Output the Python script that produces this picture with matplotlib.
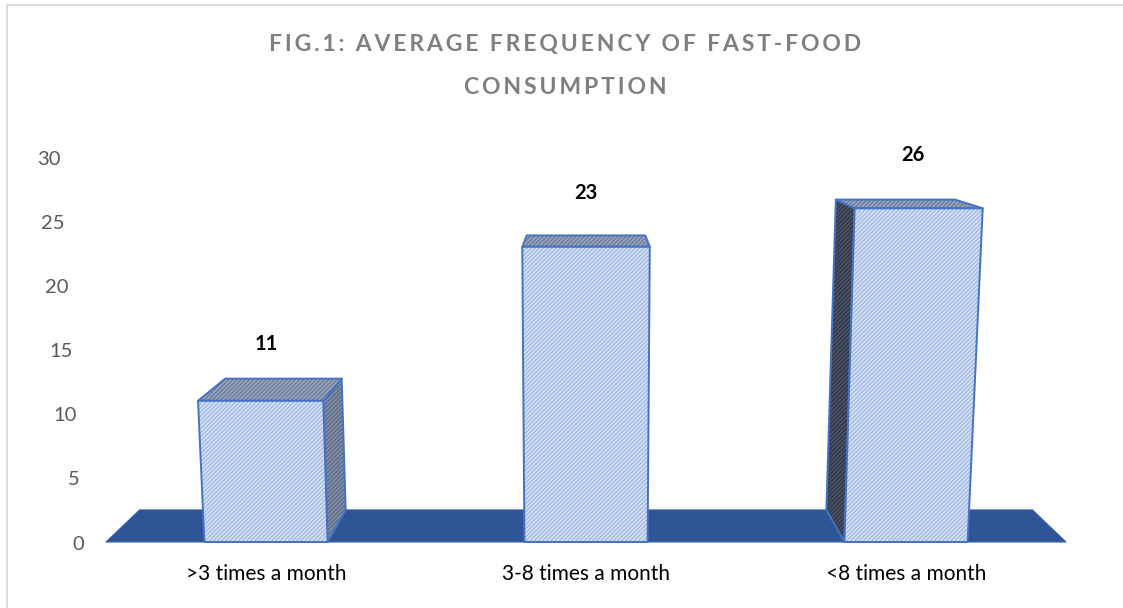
import numpy as np
import matplotlib
matplotlib.use('Agg')
import matplotlib.pyplot as plt
from matplotlib.patches import Polygon
from matplotlib.lines import Line2D

categories = ['>3 times a month', '3-8 times a month', '<8 times a month']
values = [11, 23, 26]
yticks = [0, 5, 10, 15, 20, 25, 30]
title_lines = ['FIG.1: AVERAGE FREQUENCY OF FAST-FOOD', 'CONSUMPTION']

plt.rcParams['font.family'] = ['Lato', 'DejaVu Sans']
plt.rcParams['hatch.linewidth'] = 0.9

# perspective: front plane in data units, back plane shrunk towards a vanishing point
XC = 1.0        # vanishing point, category units
VC = 35.7       # vanishing point, value units
DEPTH = 0.93    # size of the back plane relative to the front
SPREAD = 0.00152  # vertical edges lean outwards a little with height
BAR_W = 0.385


def proj(x, v, d):
    x = XC + (x - XC) * (1 + SPREAD * v)
    s = 1 - (1 - DEPTH) * d
    return XC + s * (x - XC), VC + s * (v - VC)


def face(ax, pts, fc, hc, ec, hatch='////////', lw=1.4):
    xy = [proj(*p) for p in pts]
    ax.add_patch(Polygon(xy, closed=True, facecolor=fc, edgecolor=hc,
                         hatch=hatch, lw=0))
    if ec is not None:
        ax.add_patch(Polygon(xy, closed=True, fill=False, edgecolor=ec,
                             lw=lw, joinstyle='round'))


fig = plt.figure(figsize=(11.23, 6.08), dpi=100)
ax = fig.add_axes([0, 0, 1, 1])
ax.set_xlim(-0.83125, 2.678)
ax.set_ylim(-5.143, 42.23)
ax.axis('off')

# chart border (left and top edge only, rest is cut off)
fig.add_artist(Line2D([7 / 1123, 7 / 1123], [0, 1 - 5 / 608], color='#D9D9D9', lw=1.3))
fig.add_artist(Line2D([7 / 1123, 1], [1 - 5 / 608, 1 - 5 / 608], color='#D9D9D9', lw=1.3))

# floor
n = len(categories)
face(ax, [(-0.5, 0, 0), (n - 0.5, 0, 0), (n - 0.5, 0, 1), (-0.5, 0, 1)],
     '#2F5597', '#2F5597', '#3A62AA', hatch=None, lw=0.8)

edge = '#4472C4'
for i, v in enumerate(values):
    x0, x1 = i - BAR_W / 2, i + BAR_W / 2
    if proj(x1, 0, 0)[0] < XC:
        face(ax, [(x1, 0, 0), (x1, v, 0), (x1, v, 1), (x1, 0, 1)],
             '#7F8DA8', '#5E6B85', edge)
    elif proj(x0, 0, 0)[0] > XC:
        face(ax, [(x0, 0, 0), (x0, v, 0), (x0, v, 1), (x0, 0, 1)],
             '#4B5263', '#30364A', edge)
    face(ax, [(x0, v, 0), (x1, v, 0), (x1, v, 1), (x0, v, 1)],
         '#97A4BE', '#6C7B97', edge)
    face(ax, [(x0, 0, 0), (x1, 0, 0), (x1, v, 0), (x0, v, 0)],
         '#D6E1F4', '#9FB7E1', edge)

    # value above the bar
    ax.annotate(str(v), xy=proj(i, v, 0.25), xytext=(0, 37),
                textcoords='offset points', ha='center', va='center',
                fontsize=14.5, fontweight='bold', color='black')
    # category name under the floor
    ax.annotate(categories[i], xy=proj(i, 0, 0), xytext=(0, -23),
                textcoords='offset points', ha='center', va='center',
                fontsize=15, color='black')

# value axis labels follow the leaning left wall
for t in yticks:
    x, y = proj(-0.569, t, 0)
    ax.annotate(str(t), xy=(x, y), xytext=(0, -1.5), textcoords='offset points',
                ha='right', va='center', fontsize=14.5, color='#595959')

# letter-spaced title
for k, line in enumerate(title_lines):
    fig.text(0.503, 1 - (45 + 42 * k) / 608, '\u2009'.join(line),
             ha='center', va='center', fontsize=16.5, fontweight='bold',
             color='#7F7F7F')

fig.savefig('out.png', dpi=100)
